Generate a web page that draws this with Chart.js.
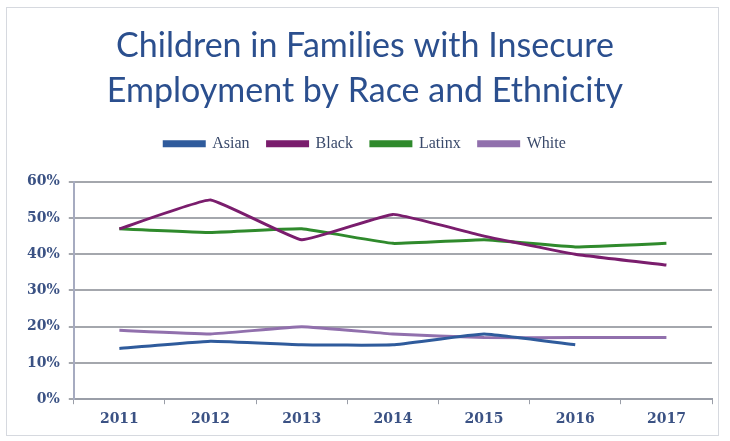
<!DOCTYPE html>
<html>
<head>
<meta charset="utf-8">
<script src="https://cdn.jsdelivr.net/npm/chart.js@4.4.0/dist/chart.umd.min.js"></script>
<style>
    html, body { margin: 0; padding: 0; background: #fff; }
    .frame {
        position: absolute;
        left: 6px;
        top: 7px;
        width: 713px;
        height: 429px;
        border: 1px solid #d6d9df;
        box-sizing: border-box;
    }
    canvas { display: block; }
</style>
</head>
<body>
<div class="frame">
    <canvas id="employmentChart" width="711" height="427"></canvas>
</div>
<script>
// Data
const years = ["2011", "2012", "2013", "2014", "2015", "2016", "2017"];
const asian = [14, 16, 15, 15, 18, 15, null];
const black = [47, 55, 44, 51, 45, 40, 37];
const latinx = [47, 46, 47, 43, 44, 42, 43];
const white = [19, 18, 20, 18, 17, 17, 17];
const yTicks = [0, 10, 20, 30, 40, 50, 60];

const seriesColors = {
    Asian: "#2f5b9c",
    Black: "#7a1d6d",
    Latinx: "#2f8a2c",
    White: "#9170ad"
};

const tickFont = { family: "'DejaVu Serif', 'Liberation Serif', serif", size: 14, weight: "bold" };

function makeSeries(label, values) {
    return {
        label: label,
        data: values,
        borderColor: seriesColors[label],
        backgroundColor: seriesColors[label],
        borderWidth: 3,
        pointRadius: 0,
        pointHoverRadius: 0,
        tension: 0.1,
        spanGaps: false
    };
}

// more room under the legend, like the original
const legendGap = {
    id: "legendGap",
    beforeInit(chart) {
        const origFit = chart.legend.fit;
        chart.legend.fit = function () {
            origFit.bind(chart.legend)();
            this.height += 20;
        };
    }
};

const ctx = document.getElementById("employmentChart").getContext("2d");

new Chart(ctx, {
    type: "line",
    data: {
        labels: years,
        datasets: [
            makeSeries("Asian", asian),
            makeSeries("Black", black),
            makeSeries("Latinx", latinx),
            makeSeries("White", white)
        ]
    },
    options: {
        responsive: false,
        animation: false,
        layout: {
            padding: { left: 11, right: 6, top: 10, bottom: 0 }
        },
        plugins: {
            title: {
                display: true,
                text: ["Children in Families with Insecure", "Employment by Race and Ethnicity"],
                color: "#2b4f8e",
                font: { family: "Lato, 'Open Sans', sans-serif", size: 34, weight: "normal", lineHeight: 1.32 },
                padding: { top: 6, bottom: 4 }
            },
            legend: {
                display: true,
                position: "top",
                labels: {
                    boxWidth: 40,
                    boxHeight: 4,
                    padding: 18,
                    color: "#3a4a6b",
                    font: { family: "'Liberation Serif', 'DejaVu Serif', serif", size: 16 }
                }
            },
            tooltip: { enabled: false }
        },
        scales: {
            x: {
                offset: true,
                grid: {
                    display: true,
                    drawOnChartArea: false,
                    drawTicks: true,
                    tickLength: 5,
                    color: "#9a9ea8",
                    offset: true
                },
                border: { display: true, color: "#9a9ea8", width: 2 },
                ticks: {
                    color: "#3b5284",
                    font: tickFont,
                    padding: 7
                }
            },
            y: {
                min: 0,
                max: 60,
                afterBuildTicks: axis => {
                    axis.ticks = yTicks.map(v => ({ value: v }));
                },
                grid: {
                    color: "#a4a7ad",
                    lineWidth: 2,
                    drawTicks: true,
                    tickLength: 5
                },
                border: { display: true, color: "#a6abc0", width: 2 },
                ticks: {
                    color: "#3b5284",
                    font: tickFont,
                    padding: 9,
                    callback: value => value + "%"
                }
            }
        }
    },
    plugins: [legendGap]
});
</script>
</body>
</html>
